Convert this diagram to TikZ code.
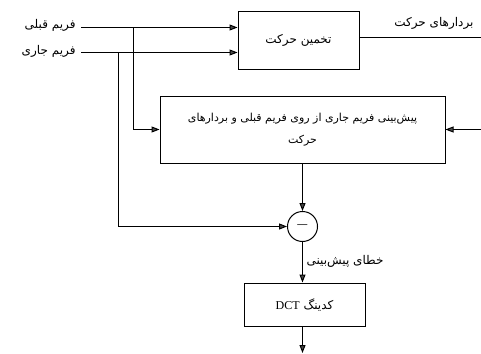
\documentclass[tikz,border=0pt]{standalone}
\usepackage{fontspec}
\newfontfamily\fa[Script=Arabic]{DejaVu Sans}
\setmainfont{Liberation Serif}
\TeXXeTstate=1
\usetikzlibrary{arrows.meta}
\begin{document}
\begin{tikzpicture}[x=1pt,y=-1pt,line width=1pt,
  >={Triangle[length=8pt,width=6pt,fill=black!70]},
  blk/.style={draw,minimum width=#1,inner sep=0pt},
  lbl/.style={font=\fa\fontsize{12}{14}\selectfont,inner sep=1pt}]
\useasboundingbox (0,0) rectangle (481,353);
% boxes
\node[blk=121pt,minimum height=57pt,lbl] (me) at (298.5,40.5) {\beginR تخمین حرکت\endR};
\node[blk=285pt,minimum height=67pt,lbl,font=\fa\fontsize{11}{13}\selectfont,align=center] (pred) at (302.5,129.5)
  {\beginR پیش‌بینی فریم جاری از روی فریم قبلی و بردارهای\endR\\[9pt]\beginR حرکت\endR};
\node[draw,circle,minimum size=30pt,inner sep=0pt] (sub) at (302.5,226.5) {\textbf{---}};
\node[blk=121pt,minimum height=43pt,lbl] (dct) at (304.5,304.5) {\beginR کدینگ \beginL{\rmfamily\fontsize{12}{14}\selectfont DCT}\endL\endR};
% labels
\node[lbl,anchor=east] (lp) at (77,25) {\beginR فریم قبلی\endR};
\node[lbl,anchor=east] (lc) at (77,51) {\beginR فریم جاری\endR};
\node[lbl,anchor=south east] (lmv) at (475,31) {\beginR بردارهای حرکت\endR};
\node[lbl,anchor=west] (lerr) at (305,261) {\beginR خطای پیش‌بینی\endR};
% coordinates
\coordinate (a1) at (81,27.5);
\coordinate (a2) at (81,52.5);
\coordinate (j1) at (133.5,27.5);
\coordinate (j2) at (118.5,52.5);
\coordinate (mvend) at (481,37.5);
\coordinate (rin) at (481,129.5);
\coordinate (out) at (302.5,353);
% connectors
\draw[->] (a1) -- (me.west |- a1);
\draw[->] (a2) -- (me.west |- a2);
\draw[->] (j1) |- (pred.west);
\draw[->] (j2) |- (sub.west);
\draw (me.east |- mvend) -- (mvend);
\draw[->] (rin) -- (pred.east);
\draw[->] (pred.south -| sub) -- (sub.north);
\draw[->] (sub.south) -- (dct.north -| sub);
\draw[->] (dct.south -| out) -- (out);
\end{tikzpicture}
\end{document}
